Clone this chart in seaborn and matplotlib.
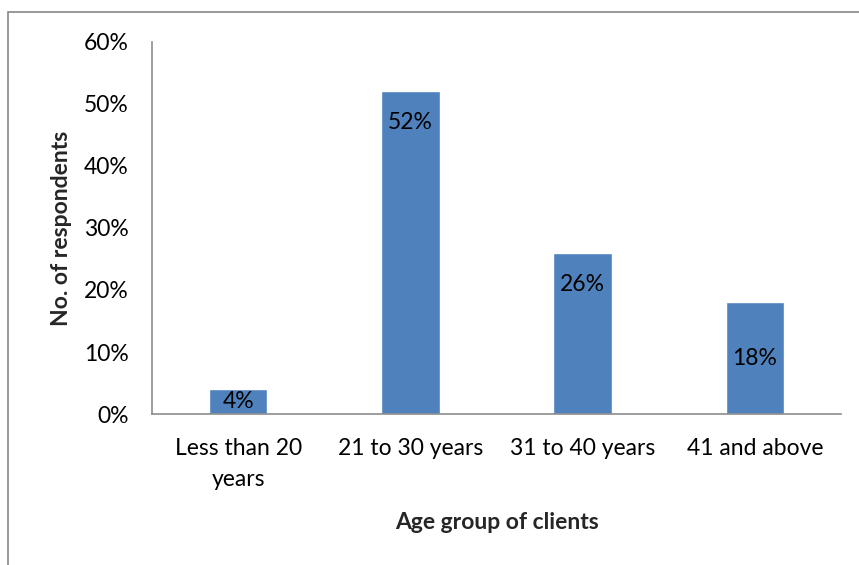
import matplotlib
matplotlib.use("Agg")
import matplotlib.pyplot as plt
import matplotlib.patches as mpatches
from matplotlib.ticker import FuncFormatter, MultipleLocator
import seaborn as sns
import pandas as pd

# Share of respondents by client age group
categories = ["Less than 20\nyears", "21 to 30 years", "31 to 40 years", "41 and above"]
shares = [4, 52, 26, 18]  # percent
# where each value label sits on its bar
label_place = ["center", "end", "end", "center"]

sns.set_theme(style="white")
plt.rcParams["font.family"] = ["Lato", "DejaVu Sans"]

df = pd.DataFrame({"group": categories, "share": shares})

fig = plt.figure(figsize=(8.59, 5.65), dpi=100)
ax = fig.add_axes([0.177, 0.267, 0.802, 0.6593])

bar_color = "#4F81BD"
sns.barplot(data=df, x="group", y="share", color=bar_color, saturation=1,
            width=0.34, ax=ax)

ax.set_ylim(0, 60)
ax.yaxis.set_major_locator(MultipleLocator(10))
ax.yaxis.set_major_formatter(FuncFormatter(lambda v, _: f"{v:.0f}%"))

fs = 16.5
for bar, v, place in zip(ax.patches, shares, label_place):
    cx = bar.get_x() + bar.get_width() / 2
    if place == "center":
        ax.annotate(f"{v}%", (cx, v / 2), ha="center", va="center",
                    fontsize=fs, color="black")
    else:
        ax.annotate(f"{v}%", (cx, v), xytext=(0, -15), textcoords="offset points",
                    ha="center", va="top", fontsize=fs, color="black")

spine_col = "#8C8C8C"
for side in ["top", "right"]:
    ax.spines[side].set_visible(False)
for side in ["left", "bottom"]:
    ax.spines[side].set_color(spine_col)
    ax.spines[side].set_linewidth(1.2)

ax.tick_params(axis="y", length=0, pad=17, labelsize=fs, colors="black")
ax.tick_params(axis="x", length=0, pad=17, labelsize=fs, colors="black")
for lbl in ax.get_xticklabels():
    lbl.set_linespacing(1.6)
    lbl.set_va("top")

ax.set_xlabel("Age group of clients", fontsize=fs, fontweight="bold", labelpad=16)
ax.set_ylabel("No. of respondents", fontsize=fs, fontweight="bold", labelpad=8)

# outer chart frame
frame = mpatches.Rectangle((8 / 859, -0.2), 1.2, 1 - 12 / 565 + 0.2,
                           transform=fig.transFigure, fill=False,
                           edgecolor="#868686", linewidth=1.2)
fig.patches.append(frame)

fig.savefig("out.png", dpi=100)
